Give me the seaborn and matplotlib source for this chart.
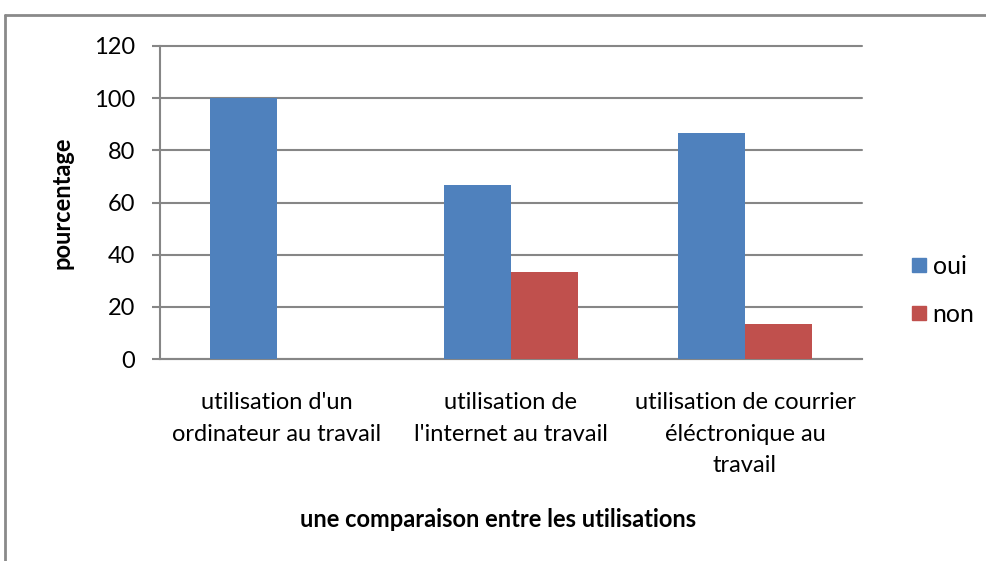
import matplotlib
matplotlib.use("Agg")
import matplotlib.pyplot as plt
from matplotlib.lines import Line2D
import seaborn as sns
import pandas as pd

# data
categories = ["utilisation d'un\nordinateur au travail",
              "utilisation de\nl'internet au travail",
              "utilisation de courrier\néléctronique au\ntravail"]
series_names = ["oui", "non"]
oui = [100, 66.7, 86.7]
non = [0, 33.3, 13.3]
y_ticks = [0, 20, 40, 60, 80, 100, 120]
colors = ["#4F81BD", "#C0504D"]

df = pd.DataFrame({
    "cat": categories * 2,
    "val": oui + non,
    "serie": [series_names[0]] * 3 + [series_names[1]] * 3,
})

sns.set_style("white")
plt.rcParams["font.family"] = ["Lato", "DejaVu Sans"]
plt.rcParams["text.color"] = "black"
plt.rcParams["axes.labelcolor"] = "black"
plt.rcParams["xtick.color"] = "black"
plt.rcParams["ytick.color"] = "black"

fig = plt.figure(figsize=(9.87, 5.61), dpi=100)
ax = fig.add_axes([160 / 987, 1 - 359 / 561, 702 / 987, 313 / 561])

sns.barplot(data=df, x="cat", y="val", hue="serie", palette=colors,
            width=0.571, gap=0, ax=ax, saturation=1, legend=False,
            edgecolor="none", zorder=3)

grid_c = "#868686"
ax.set_ylim(0, 120)
ax.set_yticks(y_ticks)
ax.set_xlim(-0.5, 2.5)
ax.yaxis.grid(True, color=grid_c, lw=1.5, zorder=0, clip_on=False)
ax.set_axisbelow(True)
for s in ["top", "right"]:
    ax.spines[s].set_visible(False)
for s in ["left", "bottom"]:
    ax.spines[s].set_color(grid_c)
    ax.spines[s].set_linewidth(1.5)
ax.tick_params(axis="y", length=6, width=1.5, color=grid_c, labelsize=17, pad=12, left=True)
ax.tick_params(axis="x", length=0, labelsize=17, pad=24)
for t in ax.get_xticklabels():
    t.set_linespacing(1.62)

ax.set_xlabel("une comparaison entre les utilisations", fontsize=17, fontweight="bold")
ax.xaxis.set_label_coords((498 - 160) / 702, (359 - 508) / 313)
ax.set_ylabel("pourcentage", fontsize=17, fontweight="bold")
ax.yaxis.set_label_coords((74 - 160) / 702, 0.5)

handles = [Line2D([], [], marker="s", ls="none", markersize=10.5, color=c) for c in colors]
fig.legend(handles, series_names, loc="center left", bbox_to_anchor=(884 / 987, 1 - 290 / 561),
           frameon=False, fontsize=18, handletextpad=0.05, labelspacing=1.0, handlelength=1)

# outer chart border (only top and left visible)
fig.add_artist(Line2D([5 / 987, 1], [1 - 15 / 561] * 2, transform=fig.transFigure, color="#8a8a8a", lw=2))
fig.add_artist(Line2D([5 / 987] * 2, [0, 1 - 15 / 561], transform=fig.transFigure, color="#8a8a8a", lw=2))

fig.savefig("out.png", dpi=100)
